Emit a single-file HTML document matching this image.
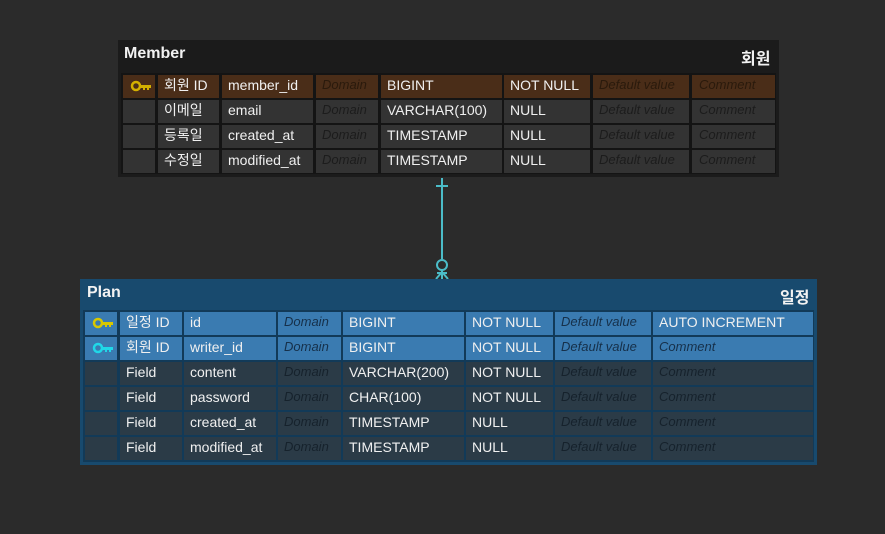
<!DOCTYPE html>
<html><head><meta charset="utf-8"><style>
body{margin:0;width:885px;height:534px;background:#2b2b2b;position:relative;overflow:hidden;font-family:"Liberation Sans","Noto Sans CJK KR",sans-serif;}
.box{position:absolute;}
.c{position:absolute;height:23px;line-height:20px;font-size:14px;color:#f0f0f0;padding-left:6px;box-sizing:border-box;white-space:nowrap;overflow:hidden;}
.i{font-style:italic;font-size:13px;}
.m{background:#333;}
.mp{background:#4a2d18;}
.mi{color:#1c1c1c;}
.p{background:#2b3b47;}
.pp{background:#3a7bb1;}
.pi{color:#16222c;}
.ppi{color:#16304a;}
.t{position:absolute;font-size:16px;font-weight:bold;color:#f2f2f2;}
</style></head><body>
<!-- Member -->
<div class="box" style="left:118px;top:40px;width:661px;height:137px;background:#1b1b1b;"></div>
<div class="box" style="left:121px;top:73px;width:655px;height:101px;background:#141414;"></div>
<div class="t" style="left:124px;top:45px;">Member</div>
<div class="t" style="left:741px;top:45px;">회원</div>

<div class="c mp" style="left:123px;top:75px;width:32px;"><svg width="26" height="22" viewBox="0 0 26 22"><circle cx="7" cy="11" r="4" fill="none" stroke="#d4b000" stroke-width="2.5"/><path d="M11 10h11v3h-2v2h-2v-2h-2v2h-2v-2h-3z" fill="#d4b000"/></svg></div>
<div class="c mp" style="left:158px;top:75px;width:61px;">회원 ID</div>
<div class="c mp" style="left:222px;top:75px;width:91px;">member_id</div>
<div class="c mp i mi" style="left:316px;top:75px;width:62px;color:#2a1a0c">Domain</div>
<div class="c mp" style="left:381px;top:75px;width:121px;">BIGINT</div>
<div class="c mp" style="left:504px;top:75px;width:86px;">NOT NULL</div>
<div class="c mp i" style="left:593px;top:75px;width:96px;color:#2a1a0c">Default value</div>
<div class="c mp i" style="left:692px;top:75px;width:83px;color:#2a1a0c;padding-left:7px">Comment</div>

<div class="c m" style="left:123px;top:100px;width:32px;"></div>
<div class="c m" style="left:158px;top:100px;width:61px;">이메일</div>
<div class="c m" style="left:222px;top:100px;width:91px;">email</div>
<div class="c m i mi" style="left:316px;top:100px;width:62px;">Domain</div>
<div class="c m" style="left:381px;top:100px;width:121px;">VARCHAR(100)</div>
<div class="c m" style="left:504px;top:100px;width:86px;">NULL</div>
<div class="c m i mi" style="left:593px;top:100px;width:96px;">Default value</div>
<div class="c m i mi" style="left:692px;top:100px;width:83px;padding-left:7px">Comment</div>

<div class="c m" style="left:123px;top:125px;width:32px;"></div>
<div class="c m" style="left:158px;top:125px;width:61px;">등록일</div>
<div class="c m" style="left:222px;top:125px;width:91px;">created_at</div>
<div class="c m i mi" style="left:316px;top:125px;width:62px;">Domain</div>
<div class="c m" style="left:381px;top:125px;width:121px;">TIMESTAMP</div>
<div class="c m" style="left:504px;top:125px;width:86px;">NULL</div>
<div class="c m i mi" style="left:593px;top:125px;width:96px;">Default value</div>
<div class="c m i mi" style="left:692px;top:125px;width:83px;padding-left:7px">Comment</div>

<div class="c m" style="left:123px;top:150px;width:32px;"></div>
<div class="c m" style="left:158px;top:150px;width:61px;">수정일</div>
<div class="c m" style="left:222px;top:150px;width:91px;">modified_at</div>
<div class="c m i mi" style="left:316px;top:150px;width:62px;">Domain</div>
<div class="c m" style="left:381px;top:150px;width:121px;">TIMESTAMP</div>
<div class="c m" style="left:504px;top:150px;width:86px;">NULL</div>
<div class="c m i mi" style="left:593px;top:150px;width:96px;">Default value</div>
<div class="c m i mi" style="left:692px;top:150px;width:83px;padding-left:7px">Comment</div>

<!-- connector -->
<svg style="position:absolute;left:0;top:0" width="885" height="534">
<g stroke="#4bbcc8" stroke-width="2" fill="none">
<line x1="442" y1="178" x2="442" y2="259"/>
<line x1="436" y1="186" x2="448" y2="186"/>
<circle cx="442" cy="265" r="5"/>
<line x1="442" y1="270" x2="442" y2="279"/>
<line x1="442" y1="272" x2="436" y2="279"/>
<line x1="442" y1="272" x2="448" y2="279"/>
<line x1="437" y1="273" x2="447" y2="273"/>
</g></svg>

<!-- Plan -->
<div class="box" style="left:80px;top:279px;width:737px;height:186px;background:#184a6e;"></div>
<div class="box" style="left:83px;top:310px;width:731px;height:152px;background:#123a58;"></div>
<div class="t" style="left:87px;top:284px;">Plan</div>
<div class="t" style="left:780px;top:284px;">일정</div>

<div class="c pp" style="left:85px;top:312px;width:32px;"><svg width="26" height="22" viewBox="0 0 26 22"><circle cx="7" cy="11" r="4" fill="none" stroke="#d8c800" stroke-width="2.5"/><path d="M11 10h11v3h-2v2h-2v-2h-2v2h-2v-2h-3z" fill="#d8c800"/></svg></div>
<div class="c pp" style="left:120px;top:312px;width:62px;">일정 ID</div>
<div class="c pp" style="left:184px;top:312px;width:92px;">id</div>
<div class="c pp i ppi" style="left:278px;top:312px;width:63px;">Domain</div>
<div class="c pp" style="left:343px;top:312px;width:121px;">BIGINT</div>
<div class="c pp" style="left:466px;top:312px;width:87px;">NOT NULL</div>
<div class="c pp i ppi" style="left:555px;top:312px;width:96px;">Default value</div>
<div class="c pp" style="left:653px;top:312px;width:160px;">AUTO INCREMENT</div>

<div class="c pp" style="left:85px;top:337px;width:32px;"><svg width="26" height="22" viewBox="0 0 26 22"><circle cx="7" cy="11" r="4" fill="none" stroke="#20d8e8" stroke-width="2.5"/><path d="M11 10h11v3h-2v2h-2v-2h-2v2h-2v-2h-3z" fill="#20d8e8"/></svg></div>
<div class="c pp" style="left:120px;top:337px;width:62px;">회원 ID</div>
<div class="c pp" style="left:184px;top:337px;width:92px;">writer_id</div>
<div class="c pp i ppi" style="left:278px;top:337px;width:63px;">Domain</div>
<div class="c pp" style="left:343px;top:337px;width:121px;">BIGINT</div>
<div class="c pp" style="left:466px;top:337px;width:87px;">NOT NULL</div>
<div class="c pp i ppi" style="left:555px;top:337px;width:96px;">Default value</div>
<div class="c pp i ppi" style="left:653px;top:337px;width:160px;">Comment</div>

<div class="c p" style="left:85px;top:362px;width:32px;"></div>
<div class="c p" style="left:120px;top:362px;width:62px;">Field</div>
<div class="c p" style="left:184px;top:362px;width:92px;">content</div>
<div class="c p i pi" style="left:278px;top:362px;width:63px;">Domain</div>
<div class="c p" style="left:343px;top:362px;width:121px;">VARCHAR(200)</div>
<div class="c p" style="left:466px;top:362px;width:87px;">NOT NULL</div>
<div class="c p i pi" style="left:555px;top:362px;width:96px;">Default value</div>
<div class="c p i pi" style="left:653px;top:362px;width:160px;">Comment</div>

<div class="c p" style="left:85px;top:387px;width:32px;"></div>
<div class="c p" style="left:120px;top:387px;width:62px;">Field</div>
<div class="c p" style="left:184px;top:387px;width:92px;">password</div>
<div class="c p i pi" style="left:278px;top:387px;width:63px;">Domain</div>
<div class="c p" style="left:343px;top:387px;width:121px;">CHAR(100)</div>
<div class="c p" style="left:466px;top:387px;width:87px;">NOT NULL</div>
<div class="c p i pi" style="left:555px;top:387px;width:96px;">Default value</div>
<div class="c p i pi" style="left:653px;top:387px;width:160px;">Comment</div>

<div class="c p" style="left:85px;top:412px;width:32px;"></div>
<div class="c p" style="left:120px;top:412px;width:62px;">Field</div>
<div class="c p" style="left:184px;top:412px;width:92px;">created_at</div>
<div class="c p i pi" style="left:278px;top:412px;width:63px;">Domain</div>
<div class="c p" style="left:343px;top:412px;width:121px;">TIMESTAMP</div>
<div class="c p" style="left:466px;top:412px;width:87px;">NULL</div>
<div class="c p i pi" style="left:555px;top:412px;width:96px;">Default value</div>
<div class="c p i pi" style="left:653px;top:412px;width:160px;">Comment</div>

<div class="c p" style="left:85px;top:437px;width:32px;"></div>
<div class="c p" style="left:120px;top:437px;width:62px;">Field</div>
<div class="c p" style="left:184px;top:437px;width:92px;">modified_at</div>
<div class="c p i pi" style="left:278px;top:437px;width:63px;">Domain</div>
<div class="c p" style="left:343px;top:437px;width:121px;">TIMESTAMP</div>
<div class="c p" style="left:466px;top:437px;width:87px;">NULL</div>
<div class="c p i pi" style="left:555px;top:437px;width:96px;">Default value</div>
<div class="c p i pi" style="left:653px;top:437px;width:160px;">Comment</div>
</body></html>
